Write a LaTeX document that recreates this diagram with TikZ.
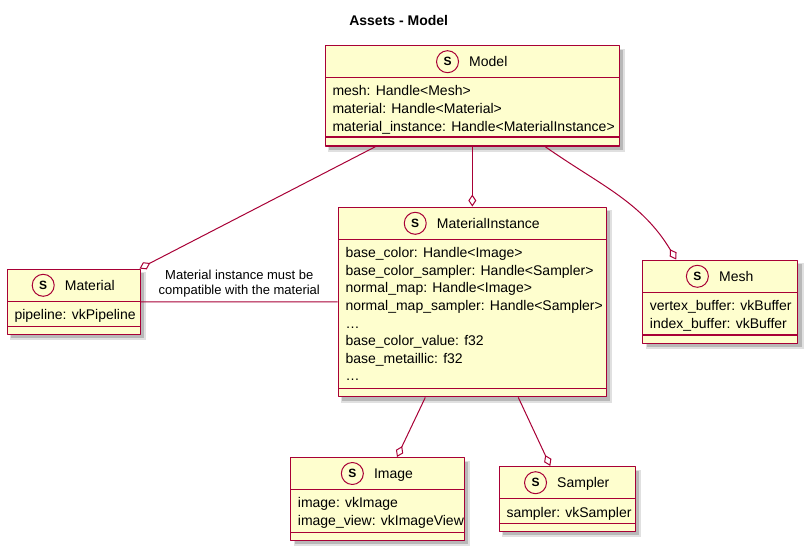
\documentclass[tikz,border=0pt]{standalone}
\usepackage{fontspec}
\setmainfont{Liberation Sans}
\usetikzlibrary{positioning,fit,arrows.meta}
\definecolor{umlfill}{HTML}{FEFECE}
\definecolor{umlborder}{HTML}{A80036}
\newcommand{\umlstruct}[9]{%
  \fill[black!12] (#2+3,#3+3) rectangle (#4+6,#5+6);
  \fill[black!28] (#2+4,#3+4) rectangle (#4+4,#5+4);
  \node[structbox, fit={(#2,#3) (#4,#5)}] (#1) {};
  \draw[structline] (#2,#6) -- (#4,#6) (#2,#7) -- (#4,#7);
  \node[structname] (#1-name) at ({(#2+#4)/2+16},{(#3+#6)/2}) {#8};
  \node[structspot, left=10pt of #1-name] (#1-spot) {S};
  \foreach \attr [count=\i] in {#9}
    \node[structattr] (#1-attr\i) at (#2+7,{#6+18.3+(\i-1)*17.6}) {\attr};
}
\begin{document}
\begin{tikzpicture}[x=1pt, y=-1pt, line join=round,
  >={Diamond[open,length=12pt,width=8pt]},
  structbox/.style={draw=umlborder, fill=umlfill, line width=1.5pt, inner sep=0pt},
  structline/.style={draw=umlborder, line width=1.5pt},
  structname/.style={inner sep=0pt, font=\fontsize{14}{16}\selectfont, text height=12pt, text depth=1.5pt},
  structspot/.style={circle, draw=umlborder, fill=umlfill, line width=1pt, minimum size=22pt, inner sep=0pt, font=\fontsize{12}{12}\selectfont\bfseries},
  structattr/.style={anchor=base west, inner sep=0pt, font=\fontsize{14}{16}\selectfont},
  assoc/.style={draw=umlborder, line width=1pt},
  note/.style={inner sep=0pt, font=\fontsize{13}{15}\selectfont, align=center}]
  \useasboundingbox (0,0) rectangle (810,553);
  \node[font=\fontsize{14}{16}\selectfont\bfseries] (title) at (398.7,20) {Assets - Model};
  \umlstruct{mdl}{325.3}{45.7}{619.3}{146}{77.7}{137}{Model}{mesh: Handle<Mesh>, material: Handle<Material>, material\_instance: Handle<MaterialInstance>}
  \umlstruct{mat}{7.3}{269.3}{140.3}{334.3}{301.3}{326.3}{Material}{pipeline: vkPipeline}
  \umlstruct{mi}{338.3}{207.3}{606.3}{396.7}{239.3}{388.3}{MaterialInstance}{base\_color: Handle<Image>, base\_color\_sampler: Handle<Sampler>, normal\_map: Handle<Image>, normal\_map\_sampler: Handle<Sampler>, \dots, base\_color\_value: f32, base\_metaillic: f32, \dots}
  \umlstruct{msh}{642.7}{260.3}{797.7}{343.3}{292.3}{335}{Mesh}{vertex\_buffer: vkBuffer, index\_buffer: vkBuffer}
  \umlstruct{img}{290.7}{457.7}{464.3}{540.3}{489.3}{532.3}{Image}{image: vkImage, image\_view: vkImageView}
  \umlstruct{smp}{499.3}{466.7}{635.3}{531.3}{498.7}{523.3}{Sampler}{sampler: vkSampler}
  \draw[assoc,->] ([xshift=-97pt]mdl.south) -- ([xshift=-1.5pt]mat.north east);
  \draw[assoc,->] (mdl.south) -- (mi.north);
  \draw[assoc,->] ([xshift=73pt]mdl.south) to[out=-35,in=121] ([xshift=-44pt]msh.north);
  \draw[assoc] (mat) -- (mi) node[note, midway, above=4pt] {Material instance must be\\compatible with the material};
  \draw[assoc,->] ([xshift=-47pt]mi.south) -- ([xshift=19.5pt]img.north);
  \draw[assoc,->] ([xshift=46pt]mi.south) -- ([xshift=-17pt]smp.north);
\end{tikzpicture}
\end{document}
